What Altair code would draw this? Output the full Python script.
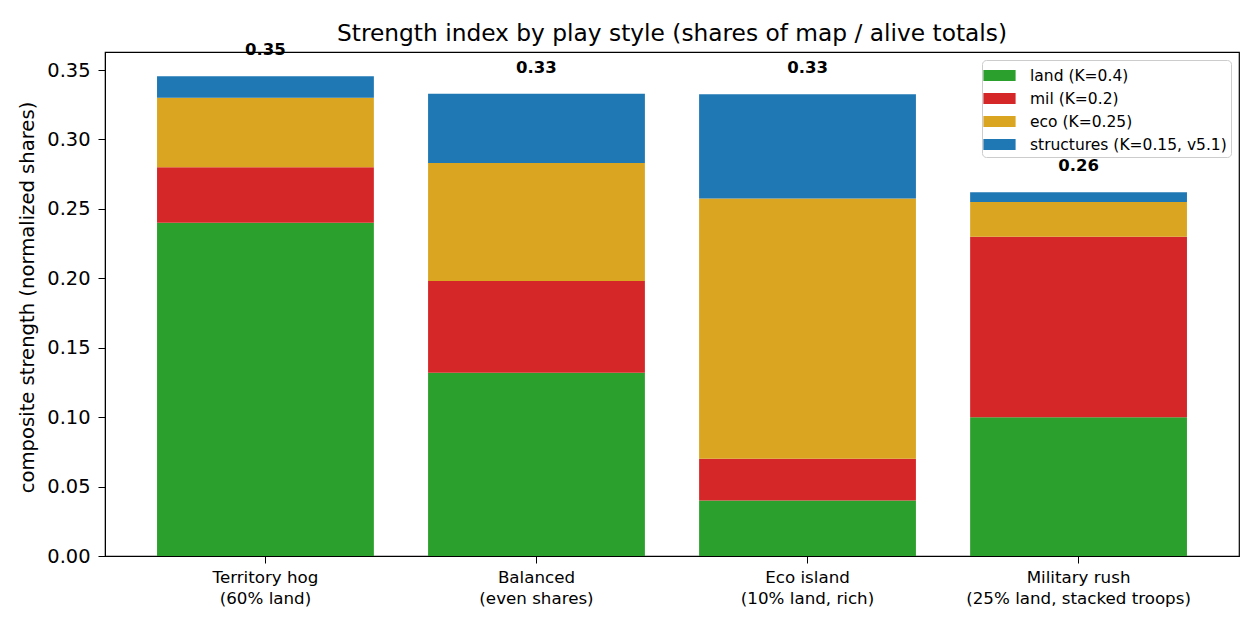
import altair as alt
import pandas as pd

styles = ["Territory hog\n(60% land)", "Balanced\n(even shares)",
          "Eco island\n(10% land, rich)", "Military rush\n(25% land, stacked troops)"]
components = ["land (K=0.4)", "mil (K=0.2)", "eco (K=0.25)", "structures (K=0.15, v5.1)"]
colors = ["#2ca02c", "#d62728", "#daa520", "#1f77b4"]
land = [0.240, 0.132, 0.040, 0.100]
mil = [0.040, 0.066, 0.030, 0.130]
eco = [0.050, 0.085, 0.1875, 0.025]
structures = [0.0155, 0.050, 0.075, 0.007]
y_ticks = [0.0, 0.05, 0.10, 0.15, 0.20, 0.25, 0.30, 0.35]

rows = []
for si, s in enumerate(styles):
    for ci, (comp, vals) in enumerate(zip(components, [land, mil, eco, structures])):
        rows.append({"style": s, "component": comp, "order": ci, "value": vals[si]})
df = pd.DataFrame(rows)

FONT = "DejaVu Sans"

x_enc = alt.X("style:N", sort=styles, title=None,
              scale=alt.Scale(paddingInner=0.2, paddingOuter=0.192),
              axis=alt.Axis(labelAngle=0, labelExpr="split(datum.label, '\\n')",
                            labelFontSize=16.7, labelPadding=6, labelLineHeight=21,
                            labelLimit=0,
                            tickSize=7, labelColor="black", domainColor="black",
                            tickColor="black"))
y_scale = alt.Scale(domain=[0, 0.363], nice=False)

bars = alt.Chart(df).mark_bar().encode(
    x=x_enc,
    y=alt.Y("sum(value):Q", scale=y_scale, stack="zero",
            title="composite strength (normalized shares)",
            axis=alt.Axis(values=y_ticks, format=".2f", labelFontSize=19.4,
                          titleFontSize=19.6, titleFontWeight="normal", tickSize=7,
                          labelPadding=8, titlePadding=9, grid=False, titleY=245,
                          labelColor="black", titleColor="black",
                          domainColor="black", tickColor="black")),
    color=alt.Color("component:N", title=None,
                    scale=alt.Scale(domain=components, range=colors),
                    legend=alt.Legend(orient="top-right", offset=8,
                                      fillColor="rgba(255,255,255,0.8)",
                                      strokeColor="#cccccc", cornerRadius=4,
                                      padding=4, symbolOffset=2, labelFontSize=15.5,
                                      labelColor="black", labelLimit=0,
                                      symbolType="M-1.4,-0.478H1.4V0.478H-1.4Z",
                                      symbolSize=529, symbolStrokeWidth=0,
                                      symbolOpacity=1, rowPadding=3, labelOffset=19)),
    order=alt.Order("order:Q", sort="ascending"),
)

labels = alt.Chart(df).mark_text(fontWeight="bold", fontSize=16.5, baseline="alphabetic",
                                 dy=-21, color="black", font=FONT).encode(
    x=alt.X("style:N", sort=styles),
    y=alt.Y("sum(value):Q", scale=y_scale),
    text=alt.Text("sum(value):Q", format=".2f"),
)

chart = alt.layer(bars, labels).properties(
    width=1134, height=504,
    title=alt.TitleParams("Strength index by play style (shares of map / alive totals)",
                          fontSize=23.3, fontWeight="normal", color="black", offset=10,
                          dy=14),
    autosize=alt.AutoSizeParams(type="none"),
    padding={"left": 97, "top": 44, "right": 13, "bottom": 66},
).configure(font=FONT).configure_view(stroke="black", strokeWidth=1.2)

chart.save("out.html", embed_options={"renderer": "svg", "actions": False})
